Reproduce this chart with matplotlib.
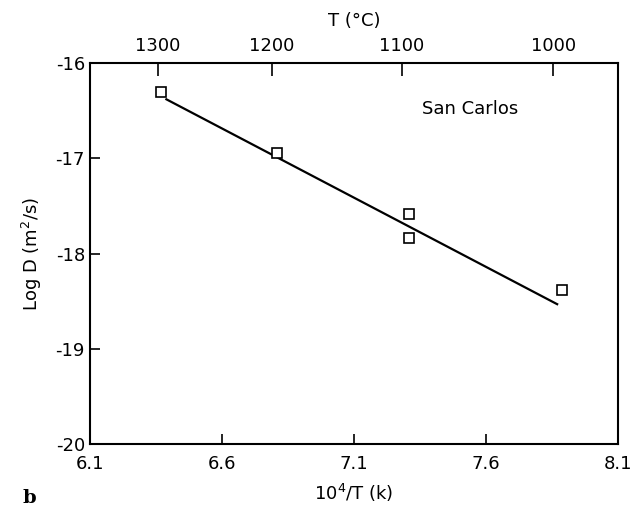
import numpy as np
import matplotlib
matplotlib.use("Agg")
import matplotlib.pyplot as plt

# data
inv_T = [6.37, 6.81, 7.31, 7.31, 7.89]
log_D = [-16.30, -16.94, -17.58, -17.84, -18.38]
fit_x = [6.39, 7.87]
fit_y = [-16.38, -18.53]
xticks = [6.1, 6.6, 7.1, 7.6, 8.1]
yticks = [-20, -19, -18, -17, -16]
top_temps = [1300, 1200, 1100, 1000]

plt.rcParams['font.family'] = ['DejaVu Sans']
plt.rcParams['axes.unicode_minus'] = False

fig = plt.figure(figsize=(6.37, 5.13), dpi=100)
ax = fig.add_axes([0.141, 0.134, 0.829, 0.743])

ax.plot(fit_x, fit_y, color='black', lw=1.6)
ax.plot(inv_T, log_D, 's', mfc='white', mec='black', mew=1.2, ms=7)

ax.set_xlim(6.1, 8.1)
ax.set_ylim(-20, -16)
ax.set_xticks(xticks)
ax.set_xticklabels([str(t) for t in xticks])
ax.set_yticks(yticks)
ax.tick_params(axis='both', direction='in', length=7, width=1.2, labelsize=13)
ax.tick_params(axis='x', pad=8)
for s in ax.spines.values():
    s.set_linewidth(1.5)

ax.set_xlabel(r'$10^4$/T (k)', fontsize=13, labelpad=6)
ax.set_ylabel(r'Log D (m$^2$/s)', fontsize=13, labelpad=8)

# top axis in degrees C
top = ax.twiny()
top.set_xlim(ax.get_xlim())
top.set_xticks([1e4 / (t + 273.15) for t in top_temps])
top.set_xticklabels([str(t) for t in top_temps])
top.tick_params(axis='x', direction='in', length=9, width=1.2, labelsize=13, pad=6)
top.set_xlabel('T (°C)', fontsize=13, labelpad=8)
for s in top.spines.values():
    s.set_visible(False)

ax.text(7.54, -16.48, 'San Carlos', fontsize=13, ha='center', va='center')
fig.text(0.035, 0.02, 'b', fontsize=14, fontweight='bold', family='DejaVu Serif')

fig.savefig('out.png', dpi=100)
